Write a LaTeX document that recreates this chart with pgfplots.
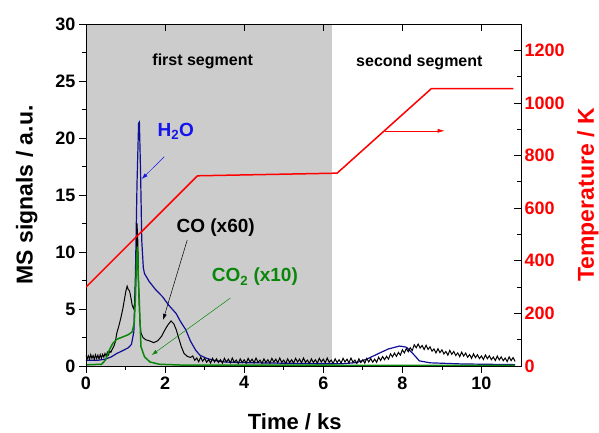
\documentclass[border=0pt]{standalone}
\usepackage{fontspec}
\setmainfont{Liberation Sans}
\usepackage{pgfplots}
\pgfplotsset{compat=1.18}
\usetikzlibrary{arrows.meta}
\definecolor{mblue}{RGB}{15,15,150}
\definecolor{tblue}{RGB}{20,20,235}
\definecolor{mgreen}{RGB}{10,135,10}
\definecolor{bggray}{RGB}{204,204,204}
\begin{document}
\begin{tikzpicture}
\begin{axis}[name=ax, scale only axis, width=435pt, height=342pt,
  xmin=0, xmax=11, ymin=0, ymax=30,
  xtick={0,2,...,10}, minor x tick num=1,
  ytick={0,5,...,30}, minor y tick num=1,
  xtick pos=lower, ytick pos=lower, tick align=outside,
  major tick length=7pt, minor tick length=4pt,
  every tick/.style={black, line width=0.8pt},
  axis line style={line width=0.8pt},
  ticklabel style={font=\bfseries\fontsize{18}{18}\selectfont},
  /pgf/number format/assume math mode=true,
  axis on top,
  xlabel={Time / ks}, ylabel={MS signals / a.u.},
  xlabel style={font=\bfseries\fontsize{22}{22}\selectfont, at={(axis description cs:0.48,-0.164)}, anchor=center},
  ylabel style={font=\bfseries\fontsize{23}{23}\selectfont, at={(axis description cs:-0.136,0.5)}, anchor=center},
]
\fill[bggray] (axis cs:0,0) rectangle (axis cs:6.22,30);
% H2O
\addplot[mblue, line width=1.2pt, no marks] coordinates {
(0,0.5) (0.29,0.5) (0.49,0.6) (0.64,0.8) (0.78,1.1) (0.93,1.35) (1.07,1.6) (1.15,1.9)
(1.21,3) (1.25,8) (1.29,16) (1.33,21.3) (1.35,21.4) (1.38,17) (1.41,11) (1.45,8.6)
(1.48,8.1) (1.60,7.4) (1.76,6.7) (1.93,6.1) (2.10,5.3) (2.28,4.6) (2.39,3.9) (2.52,3.2)
(2.64,2.2) (2.77,1.4) (2.88,0.95) (3.03,0.7) (3.22,0.5) (3.52,0.35) (3.91,0.3) (4.9,0.25)
(5.9,0.2) (6.5,0.2) (6.84,0.3) (7.1,0.6) (7.4,1.1) (7.65,1.5) (7.93,1.75) (8.1,1.65)
(8.25,1.15) (8.43,0.45) (8.7,0.28) (9.5,0.18) (10.85,0.12)
};
% CO x60
\addplot[black, line width=1.0pt, no marks] coordinates {
(0,0.95) (0.03,0.62) (0.06,0.9) (0.09,0.6) (0.12,1.0) (0.15,0.68) (0.18,0.92) (0.21,0.58)
(0.24,0.98) (0.27,0.66) (0.3,0.95) (0.33,0.62) (0.36,1.0) (0.39,0.7) (0.42,1.02) (0.45,0.78)
(0.48,1.1) (0.51,0.88) (0.54,1.2) (0.57,0.98) (0.6,1.3) (0.63,1.2) (0.66,1.45) (0.7,1.7)
(0.74,2.1) (0.78,2.9) (0.83,3.5) (0.88,4.2) (0.93,5.0) (0.98,6.0) (1.01,6.6) (1.04,7.0)
(1.07,6.7) (1.10,6.6) (1.13,6.1) (1.17,5.3) (1.21,5.0) (1.24,5.8) (1.27,9) (1.29,12.5)
(1.31,11) (1.33,7) (1.36,4) (1.39,2.9) (1.44,2.5) (1.51,2.3) (1.61,2.2) (1.71,2.05)
(1.81,2.2) (1.91,2.6) (2.0,3.2) (2.07,3.6) (2.15,3.95) (2.22,3.7) (2.28,3.2) (2.34,2.5)
(2.41,1.7) (2.48,1.1) (2.56,0.85) (2.64,0.75)
(2.70,0.88) (2.75,0.5) (2.80,0.7) (2.85,0.37) (2.90,0.77) (2.95,0.42) (3.00,0.68) (3.05,0.33)
(3.10,0.57) (3.15,0.26) (3.20,0.67) (3.25,0.35)
(3.30,0.63) (3.35,0.30) (3.40,0.55) (3.45,0.25) (3.50,0.67) (3.55,0.35)
(3.60,0.6) (3.65,0.28) (3.70,0.7) (3.75,0.32) (3.80,0.52) (3.85,0.22)
(3.90,0.63) (3.95,0.30) (4.00,0.55) (4.05,0.25) (4.10,0.67) (4.15,0.35)
(4.20,0.6) (4.25,0.28) (4.30,0.7) (4.35,0.32) (4.40,0.52) (4.45,0.22)
(4.50,0.63) (4.55,0.30) (4.60,0.55) (4.65,0.25) (4.70,0.67) (4.75,0.35)
(4.80,0.6) (4.85,0.28) (4.90,0.7) (4.95,0.32) (5.00,0.52) (5.05,0.22)
(5.10,0.63) (5.15,0.30) (5.20,0.55) (5.25,0.25) (5.30,0.67) (5.35,0.35)
(5.40,0.6) (5.45,0.28) (5.50,0.7) (5.55,0.32) (5.60,0.52) (5.65,0.22)
(5.70,0.63) (5.75,0.30) (5.80,0.55) (5.85,0.25) (5.90,0.67) (5.95,0.35)
(6.00,0.6) (6.05,0.28) (6.10,0.7) (6.15,0.32) (6.20,0.52) (6.25,0.22)
(6.30,0.63) (6.35,0.30) (6.40,0.55) (6.45,0.25) (6.50,0.67) (6.55,0.35)
(6.60,0.6) (6.65,0.28) (6.70,0.7) (6.75,0.32) (6.80,0.52) (6.85,0.22)
(6.90,0.63) (6.95,0.30) (7.00,0.55) (7.05,0.25) (7.10,0.67) (7.15,0.35)
(7.20,0.65) (7.25,0.33) (7.30,0.6) (7.35,0.32) (7.40,0.77) (7.45,0.48) (7.50,0.83) (7.55,0.55)
(7.60,0.85) (7.65,0.6) (7.70,1.07) (7.75,0.8) (7.80,1.13) (7.85,0.85) (7.90,1.2) (7.95,0.95)
(8.00,1.42) (8.05,1.15) (8.10,1.53) (8.15,1.25) (8.20,1.6) (8.25,1.35) (8.30,1.87) (8.35,1.6)
(8.40,1.93) (8.45,1.58) (8.50,1.8) (8.55,1.45) (8.60,1.82) (8.65,1.45) (8.70,1.68) (8.75,1.3)
(8.80,1.5) (8.85,1.15) (8.90,1.52) (8.95,1.17) (9.00,1.42) (9.05,1.06) (9.10,1.28) (9.15,0.95)
(9.20,1.37) (9.25,1.02) (9.30,1.28) (9.35,0.92) (9.40,1.15) (9.45,0.82) (9.50,1.22) (9.55,0.87)
(9.60,1.13) (9.65,0.77) (9.70,1.0) (9.75,0.67) (9.80,1.07) (9.85,0.73) (9.90,0.99) (9.95,0.65)
(10.00,0.88) (10.05,0.57) (10.10,0.97) (10.15,0.64) (10.20,0.9) (10.25,0.55) (10.30,0.79) (10.35,0.48)
(10.40,0.87) (10.45,0.54) (10.50,0.8) (10.55,0.46) (10.60,0.7) (10.65,0.39) (10.70,0.8) (10.75,0.47)
(10.80,0.74) (10.85,0.4)
};
% CO2 x10
\addplot[mgreen, line width=1.5pt, no marks] coordinates {
(0,0.1) (0.39,0.15) (0.49,0.5) (0.59,1.4) (0.68,2.0) (0.78,2.35) (0.93,2.55) (1.07,2.75)
(1.17,3.0) (1.22,3.8) (1.25,6) (1.28,9.5) (1.30,10.5) (1.32,8) (1.35,5.5) (1.39,1.7)
(1.48,0.8) (1.62,0.35) (1.86,0.15) (2.44,0.08) (10.85,0.05)
};
\node[font=\bfseries\fontsize{16}{16}\selectfont] at (axis cs:2.95,26.75) {first segment};
\node[font=\bfseries\fontsize{16}{16}\selectfont] at (axis cs:8.43,26.67) {second segment};
\node[font=\bfseries\fontsize{19}{19}\selectfont, text=tblue] at (axis cs:2.27,20.6) {H\textsubscript{2}O};
\node[font=\bfseries\fontsize{19}{19}\selectfont, text=black] at (axis cs:3.28,12.1) {CO (x60)};
\node[font=\bfseries\fontsize{19}{19}\selectfont, text=mgreen] at (axis cs:4.27,7.8) {CO\textsubscript{2} (x10)};
\draw[tblue, line width=0.5pt, -{Latex[length=6pt,width=4pt]}] (axis cs:1.98,18.36) -- (axis cs:1.41,16.4);
\draw[black, line width=0.5pt, -{Latex[length=6pt,width=4pt]}] (axis cs:2.56,11.05) -- (axis cs:1.95,4.04);
\draw[mgreen, line width=0.5pt, -{Latex[length=6pt,width=4pt]}] (axis cs:3.65,5.96) -- (axis cs:1.66,0.96);
\end{axis}
\begin{axis}[scale only axis, width=435pt, height=342pt,
  at={(ax.south west)}, anchor=south west,
  xmin=0, xmax=11, ymin=0, ymax=1300,
  xtick={0,2,...,10}, minor x tick num=0, xticklabels={},
  ytick={0,200,...,1200}, minor y tick num=1,
  xtick pos=upper, ytick pos=upper, tick align=inside,
  major tick length=7pt, minor tick length=4pt,
  every tick/.style={black, line width=0.8pt},
  axis line style={line width=0.8pt},
  yticklabel style={font=\bfseries\fontsize{18}{18}\selectfont, text=red},
  /pgf/number format/assume math mode=true,
  /pgf/number format/1000 sep={},
  ylabel={Temperature / K},
  ylabel style={font=\bfseries\fontsize{23}{23}\selectfont, text=red, at={(axis description cs:1.154,0.5)}, anchor=center},
]
\addplot[red, line width=1.5pt, no marks] coordinates {
(0,300) (2.82,723) (6.35,733) (8.73,1054) (10.81,1054)
};
\draw[red, line width=0.6pt, -{Latex[length=7pt,width=4pt]}] (axis cs:7.55,894) -- (axis cs:9.07,894);
\end{axis}
\pgfresetboundingbox
\path ([xshift=-86pt,yshift=-67pt]ax.south west) rectangle ([xshift=78pt,yshift=24pt]ax.north east);
\end{tikzpicture}
\end{document}
